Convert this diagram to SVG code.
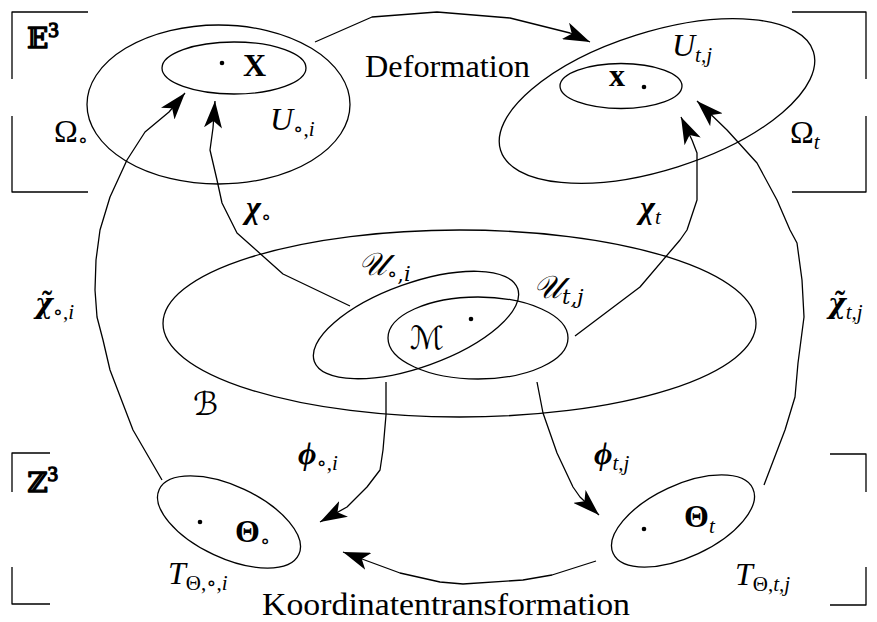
<svg xmlns="http://www.w3.org/2000/svg" width="877" height="622" viewBox="0 0 877 622">
<style>
.ln{fill:none;stroke:#000;stroke-width:1.3;stroke-linejoin:round}
.ar{fill:none;stroke:#000;stroke-width:1.3;stroke-linejoin:round;marker-end:url(#ah)}
.t{font-family:"Liberation Serif","DejaVu Serif",serif;font-size:32px;fill:#000}
.i{font-style:italic}
.b{font-weight:bold}
.s{font-size:21px}
.dv{font-family:"DejaVu Serif",serif;font-size:27px}
.bb{font-family:"DejaVu Serif","DejaVu Sans",serif;font-size:28px}
.cal{font-family:"DejaVu Serif","DejaVu Sans","Noto Sans",serif;font-style:italic}
</style>
<defs>
<marker id="ah" markerUnits="userSpaceOnUse" markerWidth="28" markerHeight="18" refX="27" refY="9" orient="auto">
<path d="M27,9 L0,0 L7,9 L0,18 Z" fill="#000"/>
</marker>
</defs>
<g id="frames" class="ln">
<path d="M88,12 H12 V79 M12,116 V192 H88"/>
<path d="M792,12 H866 V79 M866,116 V192 H792"/>
<path d="M50,453 H12 V492 M12,567 V604 H50"/>
<path d="M830,454 H866 V492 M866,567 V605 H830"/>
<text class="t" x="27" y="48"><tspan class="bb">𝔼</tspan><tspan class="s" dy="-11">3</tspan></text>
<text class="t" x="27" y="492"><tspan class="bb">ℤ</tspan><tspan class="s" dy="-11">3</tspan></text>
</g>
<g id="omega0">
<ellipse class="ln" cx="218.5" cy="104.5" rx="131.5" ry="79.5"/>
<text class="t" x="54" y="142">Ω<tspan class="s" dy="5">∘</tspan></text>
</g>
<g id="U0i">
<ellipse class="ln" cx="234" cy="68" rx="72" ry="26"/>
<circle cx="222" cy="63" r="2.3"/>
<text class="t b" x="243" y="76">X</text>
<text class="t i" x="270" y="130">U<tspan class="s" dy="6" font-style="normal">∘,</tspan><tspan class="s">i</tspan></text>
</g>
<g id="omegat">
<ellipse class="ln" cx="0" cy="0" rx="164" ry="69" transform="translate(657 101) rotate(-17.5)"/>
<text class="t" x="790" y="143">Ω<tspan class="s i" dy="6">t</tspan></text>
</g>
<g id="Utj">
<ellipse class="ln" cx="621" cy="86" rx="61" ry="22.5"/>
<circle cx="644" cy="87" r="2.3"/>
<text class="t b" x="609" y="86">x</text>
<text class="t i" x="672" y="56">U<tspan class="s" dy="6">t,j</tspan></text>
</g>
<g id="body">
<ellipse class="ln" cx="459.5" cy="323.5" rx="296.5" ry="93.5"/>
<text class="t cal" x="193" y="415">ℬ</text>
</g>
<g id="chart0i">
<ellipse class="ln" cx="0" cy="0" rx="108" ry="42" transform="translate(416 325) rotate(-19.7)"/>
<text class="t cal" x="358" y="275">𝒰<tspan class="s" dy="6" font-style="normal">∘,</tspan><tspan class="s i">i</tspan></text>
</g>
<g id="charttj">
<ellipse class="ln" cx="478" cy="338" rx="90" ry="41"/>
<text class="t cal" x="533" y="298">𝒰<tspan class="s i" dy="6">t,j</tspan></text>
<text class="t cal" x="410" y="349">ℳ</text>
<circle cx="471" cy="319" r="2.3"/>
</g>
<g id="T0">
<ellipse class="ln" cx="0" cy="0" rx="77" ry="36" transform="translate(229 522) rotate(25)"/>
<circle cx="200" cy="522" r="2.3"/>
<text class="t b" x="235" y="542">Θ<tspan class="s" dy="6" font-weight="normal">∘</tspan></text>
<text class="t i" x="168" y="584">T<tspan class="s" dy="6" font-style="normal">Θ,∘,</tspan><tspan class="s">i</tspan></text>
</g>
<g id="Tt">
<ellipse class="ln" cx="0" cy="0" rx="77" ry="36" transform="translate(683 521) rotate(-25)"/>
<circle cx="644" cy="529" r="2.3"/>
<text class="t b" x="684" y="527">Θ<tspan class="s i" dy="6" font-weight="normal">t</tspan></text>
<text class="t i" x="735" y="585">T<tspan class="s" dy="6" font-style="normal">Θ,</tspan><tspan class="s">t,j</tspan></text>
</g>
<g id="connectors">
<path class="ar" d="M315,42 L372,17 L437,12 L510,18 L570,33 L590,42"/>
<path class="ar" d="M350,306 L283,274 L237,233 L222,203 L217,180 L210,150 L213,128 L215,101"/>
<path class="ar" d="M575,336 L640,287 L680,240 L687,230 L697,200 L697,153 L692,140 L681,117"/>
<path class="ar" d="M162,480 L133,430 L110,370 L103,340 L97,317 L95,290 L96,260 L100,230 L110,197 L127,160 L145,132 L169,112 L185,93"/>
<path class="ar" d="M764,485 L785,430 L795,397 L798,363 L804,317 L802,280 L797,243 L790,230 L777,200 L757,163 L727,130 L697,101"/>
<path class="ar" d="M386,382 L386,415 L383,450 L380,470 L367,487 L347,507 L320,522"/>
<path class="ar" d="M537,382 L543,413 L550,433 L557,453 L573,487 L580,497 L599,515"/>
<path class="ar" d="M596,561 L552,575 L523,580 L463,584 L440,582 L400,573 L343,552"/>
<text class="t" x="365" y="77" textLength="165" lengthAdjust="spacingAndGlyphs">Deformation</text>
<text class="t" x="262" y="615" textLength="368" lengthAdjust="spacingAndGlyphs">Koordinatentransformation</text>
<text class="t i b" x="246" y="218">χ<tspan class="s" dy="6" font-style="normal" font-weight="normal">∘</tspan></text>
<text class="t i b" x="640" y="218">χ<tspan class="s" dy="6" font-weight="normal">t</tspan></text>
<text class="t i b" x="35" y="313"><tspan class="dv">χ̃</tspan><tspan class="s" dy="6" font-style="normal" font-weight="normal">∘,</tspan><tspan class="s" font-weight="normal">i</tspan></text>
<text class="t i b" x="828" y="313"><tspan class="dv">χ̃</tspan><tspan class="s" dy="6" font-weight="normal">t,j</tspan></text>
<text class="t i b" x="298" y="464">ϕ<tspan class="s" dy="6" font-style="normal" font-weight="normal">∘,</tspan><tspan class="s" font-weight="normal">i</tspan></text>
<text class="t i b" x="594" y="464">ϕ<tspan class="s" dy="6" font-weight="normal">t,j</tspan></text>
</g>
</svg>
